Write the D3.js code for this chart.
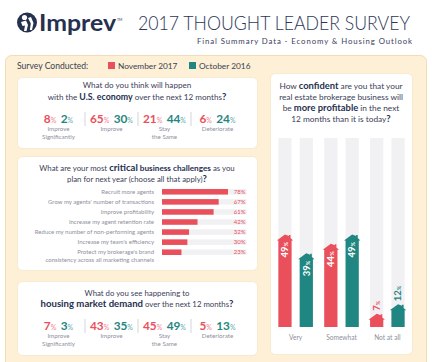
<!DOCTYPE html>
<html><head><meta charset="utf-8">
<script src="https://cdn.jsdelivr.net/npm/d3@7"></script>
<style>
html,body{margin:0;padding:0;background:#fff;}
svg{display:block;font-family:Lato,"Open Sans",sans-serif;}
</style></head>
<body>
<svg id="c" width="432" height="362"></svg>
<script>
// ---------- DATA ----------
const seriesNames = ["November 2017", "October 2016"];
const econCats = ["Improve|Significantly", "Improve", "Stay|the Same", "Deteriorate"];
const econNov = [8, 65, 21, 6];
const econOct = [2, 30, 44, 24];
const challengeCats = [
  "Recruit more agents",
  "Grow my agents' number of transactions",
  "Improve profitability",
  "Increase my agent retention rate",
  "Reduce my number of non-performing agents",
  "Increase my team's efficiency",
  "Protect my brokerage's brand|consistency across all marketing channels"
];
const challengeVals = [78, 67, 61, 42, 32, 30, 23];
const housingCats = ["Improve|Significantly", "Improve", "Stay|the Same", "Deteriorate"];
const housingNov = [7, 43, 45, 5];
const housingOct = [3, 35, 49, 13];
const confCats = ["Very", "Somewhat", "Not at all"];
const confNov = [49, 44, 7];
const confOct = [39, 49, 12];

// ---------- STYLE ----------
const RED = "#e9505c", TEAL = "#1f8681", NAVY = "#26304f", TXT = "#3b4058", GRAY = "#8d8f9c";
const BEIGE = "#fdf0d6", BEIGE_B = "#f1dcb4", TRACK = "#f1f1f4";
const colors = [RED, TEAL];

const svg = d3.select("#c");

// ---------- HEADER ----------
const logo = svg.append("g");
logo.append("circle").attr("cx", 27).attr("cy", 22.5).attr("r", 10).attr("fill", NAVY);
logo.append("circle").attr("cx", 24.5).attr("cy", 17.5).attr("r", 2.6).attr("fill", "#fff");
logo.append("path").attr("d", "M21,22 L26,20.5 L28,25 L26.5,31 L24,31 L25,25.5 L22.5,26 Z").attr("fill", "#fff");
logo.append("path").attr("d", "M28,18 L31,17 L33.5,23 L32,30 L29.8,30 L30.8,23.5 Z").attr("fill", "#fff");
logo.append("text").attr("x", 39).attr("y", 31).attr("font-size", 23).attr("font-weight", 700)
  .attr("fill", NAVY).attr("textLength", 77).attr("lengthAdjust", "spacingAndGlyphs").text("Imprev");
logo.append("text").attr("x", 117).attr("y", 21).attr("font-size", 3.5).attr("fill", NAVY).text("TM");

svg.append("text").attr("x", 138).attr("y", 30).attr("font-size", 19).attr("font-weight", 300).attr("fill", "#2c3657")
  .attr("textLength", 272).attr("lengthAdjust", "spacingAndGlyphs").text("2017 THOUGHT LEADER SURVEY");
svg.append("text").attr("x", 197).attr("y", 44).attr("font-size", 7.8).attr("fill", "#3a4060")
  .attr("textLength", 215).attr("lengthAdjust", "spacing").text("Final Summary Data - Economy & Housing Outlook");

// ---------- OUTER PANEL ----------
svg.append("rect").attr("x", 5.5).attr("y", 55.5).attr("width", 421).attr("height", 320)
  .attr("rx", 6).attr("fill", BEIGE).attr("stroke", BEIGE_B);

// legend
const leg = svg.append("g");
leg.append("text").attr("x", 17).attr("y", 69).attr("font-size", 8.6).attr("fill", "#3b3f52").text("Survey Conducted:");
const legX = [108, 189];
seriesNames.forEach((s, i) => {
  leg.append("rect").attr("x", legX[i]).attr("y", 62).attr("width", 7).attr("height", 7).attr("fill", colors[i]);
  leg.append("text").attr("x", legX[i] + 10).attr("y", 69).attr("font-size", 8.3).attr("fill", "#3b3f52").text(s);
});

function panel(x, y, w, h) {
  svg.append("rect").attr("x", x).attr("y", y).attr("width", w).attr("height", h)
    .attr("rx", 5).attr("fill", "#fff").attr("stroke", "#f6e6c6").attr("stroke-width", 0.8);
}
// question lines: array of arrays of [text, bold, size]
function question(cx, y0, lh, lines, base) {
  lines.forEach((parts, i) => {
    const t = svg.append("text").attr("x", cx).attr("y", y0 + i * lh).attr("text-anchor", "middle");
    parts.forEach(p => {
      t.append("tspan").text(p[0]).attr("font-weight", p[1] ? 700 : 400)
        .attr("font-size", p[2] || base || 7.8).attr("fill", p[1] ? NAVY : TXT);
    });
  });
}

// ---------- PAIR PANEL (economy & housing) ----------
function pairRow(cats, nov, oct, yNum, yLab) {
  const x = d3.scaleBand().domain(cats).range([32, 244]);
  cats.forEach((c, i) => {
    const cx = x(c) + x.bandwidth() / 2;
    const t = svg.append("text").attr("x", cx).attr("y", yNum).attr("text-anchor", "middle");
    t.append("tspan").text(nov[i]).attr("font-size", 11.8).attr("font-weight", 700).attr("fill", RED);
    t.append("tspan").text("%").attr("font-size", 7).attr("fill", RED).attr("fill-opacity", 0.75);
    t.append("tspan").text(" ").attr("font-size", 11).attr("dx", 1.5);
    t.append("tspan").text(oct[i]).attr("font-size", 11.8).attr("font-weight", 700).attr("fill", TEAL);
    t.append("tspan").text("%").attr("font-size", 7).attr("fill", TEAL).attr("fill-opacity", 0.75);
    c.split("|").forEach((l, j) => {
      svg.append("text").attr("x", cx).attr("y", yLab + j * 8).attr("text-anchor", "middle")
        .attr("font-size", 6.2).attr("fill", GRAY).text(l);
    });
    if (i > 0) {
      svg.append("line").attr("x1", x(c)).attr("x2", x(c)).attr("y1", yNum - 11).attr("y2", yNum + 3)
        .attr("stroke", "#c9cad2").attr("stroke-width", 0.8);
    }
  });
}

// Panel 1: economy
panel(17.5, 77.5, 240, 71);
question(137, 88, 11.5, [
  [["What do you think will happen", false]],
  [["with the ", false], ["U.S. economy", true, 8.8], [" over the next 12 months", false], ["?", true, 9.5]]
], 8.1);
pairRow(econCats, econNov, econOct, 123, 131);

// Panel 2: challenges
panel(17.5, 156.5, 240, 114);
question(137, 171, 11, [
  [["What are your most ", false], ["critical", true, 9.6], [" business challenges", true, 8.2], [" as you", false]],
  [["plan for next year (choose all that apply)", false], ["?", true, 9.5]]
]);
const bx = d3.scaleLinear().domain([0, 100]).range([162, 246.6]);
const by = d3.scaleBand().domain(challengeCats).range([187, 257]).paddingInner(0.45).paddingOuter(0.2);
challengeCats.forEach((c, i) => {
  const y = by(c);
  svg.append("rect").attr("x", bx(0)).attr("y", y).attr("width", bx(100) - bx(0)).attr("height", by.bandwidth())
    .attr("fill", TRACK);
  svg.append("rect").attr("x", bx(0)).attr("y", y).attr("width", bx(challengeVals[i]) - bx(0)).attr("height", by.bandwidth())
    .attr("fill", RED);
  const cy = y + by.bandwidth() / 2;
  c.split("|").forEach((l, j) => {
    svg.append("text").attr("x", 154).attr("y", cy + 2 + j * 8).attr("text-anchor", "end")
      .attr("font-size", 6).attr("fill", GRAY).text(l);
  });
  svg.append("text").attr("x", 245.5).attr("y", cy + 2.2).attr("text-anchor", "end")
    .attr("font-size", 6).attr("fill", RED).text(challengeVals[i] + "%");
});

// Panel 3: housing
panel(17.5, 281.5, 240, 74);
question(137, 296, 11, [
  [["What do you see happening to", false]],
  [["housing market demand", true, 9.6], [" over the next 12 months", false], ["?", true, 9.5]]
]);
pairRow(housingCats, housingNov, housingOct, 330, 338);

// ---------- RIGHT PANEL: confidence ----------
panel(270.5, 73.5, 142, 281);
question(341, 89, 11, [
  [["How ", false], ["confident", true, 9.4], [" are you that your", false]],
  [["real estate brokerage business will", false]],
  [["be ", false], ["more profitable", true, 9.4], [" in the next", false]],
  [["12 months than it is today", false], ["?", true, 9.5]]
], 8.3);
const gx = d3.scaleBand().domain(confCats).range([275, 408]).paddingInner(0.2).paddingOuter(0.05);
const sx = d3.scaleBand().domain([0, 1]).range([0, gx.bandwidth()]).paddingInner(0.38).paddingOuter(0.05);
const vy = d3.scaleLinear().domain([0, 100]).range([327, 138]);
const bw = sx.bandwidth();

function housePath(x0, w, v) {
  const yt = vy(v), yb = vy(0), rh = 6, o = 1.6, cx = x0 + w / 2;
  return `M${x0},${yb} L${x0},${yt + rh} L${x0 - o},${yt + rh} L${cx},${yt} ` +
    `L${x0 + w * 0.8},${yt + rh * 0.25} L${x0 + w * 0.8},${yt + 0.5} L${x0 + w * 0.92},${yt + 0.5} L${x0 + w * 0.92},${yt + rh * 0.62} ` +
    `L${x0 + w + o},${yt + rh} L${x0 + w},${yt + rh} L${x0 + w},${yb} Z`;
}

confCats.forEach((c, i) => {
  [confNov[i], confOct[i]].forEach((v, s) => {
    const x0 = gx(c) + sx(s);
    svg.append("rect").attr("x", x0).attr("y", vy(100)).attr("width", bw).attr("height", vy(0) - vy(100))
      .attr("fill", TRACK);
    svg.append("path").attr("d", housePath(x0, bw, v)).attr("fill", colors[s]);
    const cx = x0 + bw / 2;
    const inside = v > 25;
    const ly = inside ? vy(v) + 7.5 : vy(v) - 3;
    const t = svg.append("text").attr("transform", `translate(${cx + 3.2},${ly}) rotate(-90)`)
      .attr("text-anchor", inside ? "end" : "start");
    const col = inside ? "#fff" : colors[s];
    t.append("tspan").text(v).attr("font-size", 9.5).attr("font-weight", 700).attr("fill", col);
    t.append("tspan").text("%").attr("font-size", 5.5).attr("font-weight", 700).attr("fill", col);
  });
  svg.append("text").attr("x", gx(c) + gx.bandwidth() / 2).attr("y", 340).attr("text-anchor", "middle")
    .attr("font-size", 6.6).attr("fill", GRAY).text(c);
});
</script>
</body></html>
